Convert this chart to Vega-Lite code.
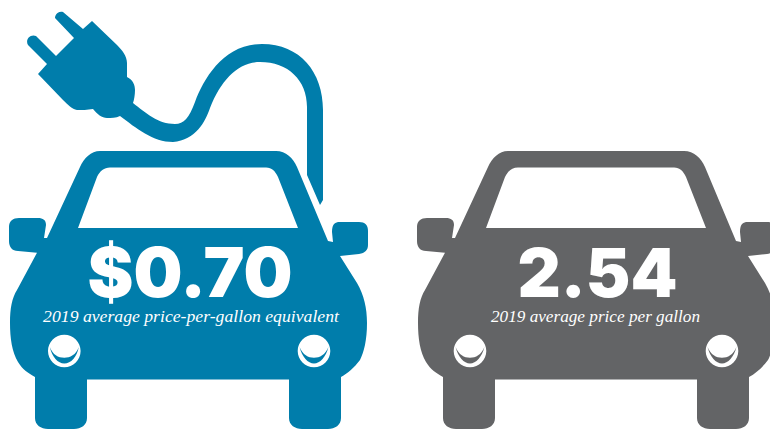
{
"$schema":"https://vega.github.io/schema/vega-lite/v6.json",
"width":770,"height":429,"padding":0,"autosize":{"type":"none"},
"background":"white",
"view":{"stroke":null},
"data":{"values":[
{"car":"Electric","price":0.70,"priceLabel":"$0.70","caption":"2019 average price-per-gallon equivalent"},
{"car":"Gasoline","price":2.54,"priceLabel":"2.54","caption":"2019 average price per gallon"}
]},
"encoding":{
"x":{"field":"car","type":"nominal","axis":null,"scale":{"type":"point","padding":0,"domain":["Electric","Gasoline"],"range":[188,596]}}
},
"resolve":{"scale":{"shape":"independent"}},
"layer":[
{"mark":{"type":"point","filled":true,"opacity":1,"size":4,"shape":"M-88,151 L88,151 C98,151 105,158 109,167 L140,241 L145,242 L144,232 C144,225 146,223 150,222 L171,222 C177,222 180,225 180,231 L180,245 C180,250 177,253 171,254 L152,256 L169,283 C176,295 179,308 179,323 C179,340 176,352 172,360 C166,368 160,373 153,377 L153,418 C153,425 147,429 140,429 L114,429 C107,429 101,425 101,418 L101,379.5 L-101,379.5 L-101,418 C-101,425 -107,429 -114,429 L-140,429 C-147,429 -153,425 -153,418 L-153,377 C-160,373 -165,370 -170,362 C-176,352 -178,338 -178,323 C-178,308 -176,298 -171,290 L-151,252.7 L-170,251 C-176,251 -179,247 -179,241 L-179,227 C-179,221 -175,218 -169,218 L-150,218 C-145,218 -142,220 -142,225 L-144,238 L-141,238 L-108,167 C-104,158 -97,151 -88,151 Z M-110,228 L110,228 L90,177 C87,171 84,167.5 78,167.5 L-78,167.5 C-84,167.5 -88,171 -91,177 Z"},
"encoding":{"y":{"value":0},"color":{"field":"car","type":"nominal","legend":null,"scale":{"domain":["Electric","Gasoline"],"range":["#007dab","#636466"]}}}},
{"transform":[{"filter":"datum.car === 'Electric'"}],
"mark":{"type":"point","filled":true,"opacity":1,"size":4,"color":"#007dab","shape":"M-96,21 L-71,45 C-66,50 -61,56 -61,63 L-61,77 C-55,80 -53,85 -53,90 C-53,95 -54,100 -55,103 C-42,113 -30,124 -13,124 C-4,124 1,118 7,102 C16,78 36,44 74,44 C112,44 135,72 135,110 L135,200 L132,205 L119,175 L119,107 C119,80 100,62 72,62 C50,62 33,80 22,108 C17,122 8,140 -15,142 C-35,142 -52,128 -68,116 C-72,118 -77,118 -81,118 C-86,118 -91,114 -95,109 C-101,110 -106,110 -111,110 C-116,109 -120,105 -125,100 L-150,74 L-141,64 L-160,45 A6.3,6.3 0 0 1 -152,36 L-132,56 L-114,38 L-133,18 A6.3,6.3 0 0 1 -125,12 L-105,29 Z"},
"encoding":{"y":{"value":0}}},
{"mark":{"type":"point","filled":true,"opacity":1,"size":4,"color":"white"},
"encoding":{"y":{"value":351},"shape":{"field":"car","type":"nominal","legend":null,"scale":{"domain":["Electric","Gasoline"],"range":["M-140,0 A16.3,16.3 0 1 0 -107.4,0 A16.3,16.3 0 1 0 -140,0 Z M109.7,0 A16.3,16.3 0 1 0 142.3,0 A16.3,16.3 0 1 0 109.7,0 Z","M-142.3,0 A16.3,16.3 0 1 0 -109.7,0 A16.3,16.3 0 1 0 -142.3,0 Z M109.7,0 A16.3,16.3 0 1 0 142.3,0 A16.3,16.3 0 1 0 109.7,0 Z"]}}}},
{"mark":{"type":"point","filled":true,"opacity":1,"size":4},
"encoding":{"y":{"value":351},
"color":{"field":"car","type":"nominal","legend":null,"scale":{"domain":["Electric","Gasoline"],"range":["#007dab","#636466"]}},
"shape":{"field":"car","type":"nominal","legend":null,"scale":{"domain":["Electric","Gasoline"],"range":["M-138.2,-4 C-136,6 -130,12.5 -123.7,12.5 C-117,12.5 -111,6 -109.2,-4 C-112,4 -118,6.7 -123.7,6.7 C-130,6.7 -135,4 -138.2,-4 Z M111.5,-4 C114,6 120,12.5 126,12.5 C132,12.5 138,6 140.5,-4 C137,4 132,6.7 126,6.7 C120,6.7 115,4 111.5,-4 Z","M-140.5,-4 C-138,6 -132,12.5 -126,12.5 C-120,12.5 -114,6 -111.5,-4 C-115,4 -120,6.7 -126,6.7 C-132,6.7 -137,4 -140.5,-4 Z M111.5,-4 C114,6 120,12.5 126,12.5 C132,12.5 138,6 140.5,-4 C137,4 132,6.7 126,6.7 C120,6.7 115,4 111.5,-4 Z"]}}}},
{"transform":[{"filter":"datum.car === 'Electric'"}],"mark":{"type":"text","font":"Inter","fontWeight":900,"fontSize":69,"color":"white","baseline":"alphabetic","align":"center","dx":2},
"encoding":{"y":{"value":297},"text":{"field":"priceLabel"}}},
{"transform":[{"filter":"datum.car === 'Gasoline'"}],"mark":{"type":"text","font":"Inter","fontWeight":900,"fontSize":67,"color":"white","baseline":"alphabetic","align":"center","dx":1.5},
"encoding":{"y":{"value":297},"text":{"field":"priceLabel"}}},
{"transform":[{"filter":"datum.car === 'Electric'"}],"mark":{"type":"text","font":"Liberation Serif","fontStyle":"italic","fontSize":17.7,"color":"white","baseline":"alphabetic","align":"center","dx":3},
"encoding":{"y":{"value":322},"text":{"field":"caption"}}},
{"transform":[{"filter":"datum.car === 'Gasoline'"}],"mark":{"type":"text","font":"Liberation Serif","fontStyle":"italic","fontSize":17.2,"color":"white","baseline":"alphabetic","align":"center","dx":-0.5},
"encoding":{"y":{"value":322},"text":{"field":"caption"}}}
]
}
